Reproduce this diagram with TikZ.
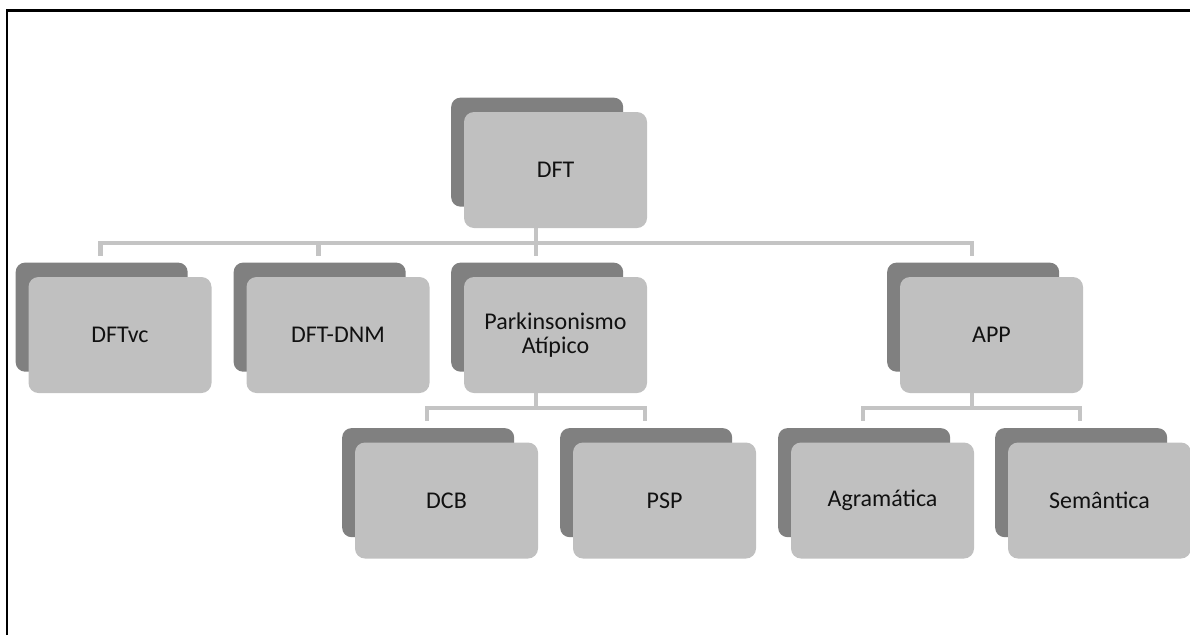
\documentclass[tikz,border=0pt]{standalone}
\usepackage{fontspec}
\newfontfamily\boxfont{Carlito}
\usetikzlibrary{shadows}
\definecolor{frontgray}{HTML}{C0C0C0}
\definecolor{backgray}{HTML}{808080}
\definecolor{linegray}{HTML}{C4C4C4}
\definecolor{txt}{HTML}{111111}
\tikzset{
  orgbox/.style={rectangle, rounded corners=10pt, fill=frontgray, draw=none,
    minimum width=183pt, minimum height=116pt, inner sep=0pt, align=center,
    text=txt, font=\boxfont\fontsize{24}{24}\selectfont,
    copy shadow={shadow scale=0.94, shadow xshift=-19.5pt, shadow yshift=19pt, fill=backgray, draw=none}},
  conn/.style={draw=linegray, line width=4.5pt},
  frameline/.style={draw=black, line width=2.5pt}
}
\begin{document}
\begin{tikzpicture}[x=1pt,y=-1pt]
\useasboundingbox (0,0) rectangle (1190,635);
\coordinate (ftl) at (7,635);
\coordinate (fc) at (7,10.5);
\coordinate (ftr) at (1190,10.5);
\draw[frameline] (ftl) -- (fc) -- (ftr);

\node[orgbox] (dft) at (555.5,170) {DFT};
\node[orgbox] (dftvc) at (120,335) {DFTvc};
\node[orgbox] (dftdnm) at (338,335) {DFT-DNM};
\node[orgbox] (park) at (555.5,335) {Parkinsonismo\\Atípico};
\node[orgbox] (app) at (991.5,335) {APP};
\node[orgbox] (dcb) at (446.5,500.5) {DCB};
\node[orgbox] (psp) at (664.5,500.5) {PSP};
\node[orgbox] (agr) at (882.5,500.5) {Agramática};
\node[orgbox] (sem) at (1099.5,500.5) {Semântica};

\foreach \c in {dftvc,dftdnm,park,app}{
  \draw[conn] ([xshift=-19.5pt]dft.south) -- ++(0,15) -| ([xshift=-19.5pt,yshift=21pt]\c.north);
}
\foreach \c in {dcb,psp}{
  \draw[conn] ([xshift=-19.5pt]park.south) -- ++(0,15) -| ([xshift=-19.5pt,yshift=21pt]\c.north);
}
\foreach \c in {agr,sem}{
  \draw[conn] ([xshift=-19.5pt]app.south) -- ++(0,15) -| ([xshift=-19.5pt,yshift=21pt]\c.north);
}
\end{tikzpicture}
\end{document}
